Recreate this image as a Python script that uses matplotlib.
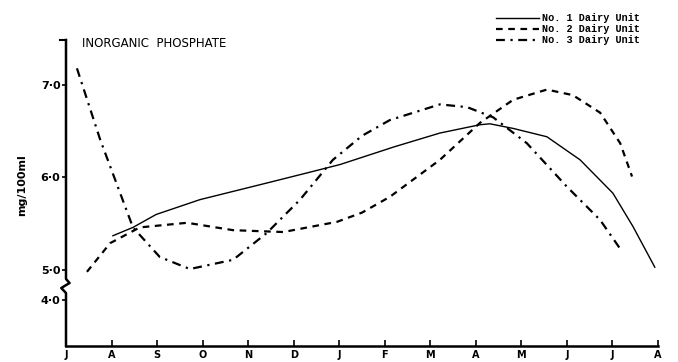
import matplotlib
matplotlib.use("Agg")
import matplotlib.pyplot as plt

months = ["J", "A", "S", "O", "N", "D", "J", "F", "M", "A", "M", "J", "J", "A"]

# month index (0 = July) and mg/100ml
unit1_x = [1.03, 1.47, 1.98, 2.94, 4.41, 5.3, 6.02, 7.2, 8.21, 9.09, 9.31, 9.82, 10.56, 11.29, 12.01, 12.45, 12.93]
unit1_y = [5.37, 5.46, 5.60, 5.76, 5.94, 6.05, 6.14, 6.33, 6.48, 6.57, 6.58, 6.53, 6.44, 6.19, 5.83, 5.47, 5.03]

unit2_x = [0.46, 0.97, 1.62, 2.66, 3.67, 4.77, 5.95, 6.5, 7.11, 8.21, 9.09, 9.82, 10.56, 11.13, 11.73, 12.17, 12.43]
unit2_y = [4.98, 5.29, 5.46, 5.51, 5.43, 5.41, 5.52, 5.62, 5.79, 6.19, 6.59, 6.84, 6.95, 6.89, 6.70, 6.37, 6.01]

unit3_x = [0.24, 0.75, 1.47, 2.06, 2.72, 3.67, 4.41, 5.14, 5.86, 6.5, 7.11, 8.21, 8.81, 9.38, 10.12, 11.0, 11.73, 12.21]
unit3_y = [7.18, 6.41, 5.46, 5.14, 5.01, 5.11, 5.40, 5.76, 6.19, 6.45, 6.62, 6.79, 6.76, 6.65, 6.37, 5.90, 5.54, 5.20]

ytick_pos = [7.0, 6.0, 5.0, 4.676]
ytick_lab = ["7·0", "6·0", "5·0", "4·0"]

fig = plt.figure(figsize=(6.78, 3.62), dpi=100)
ax = fig.add_axes([66 / 678, 1 - 346 / 362, 592 / 678, 306 / 362])

ax.plot(unit1_x, unit1_y, color="black", lw=1.0, label="No. 1 Dairy Unit")
ax.plot(unit2_x, unit2_y, color="black", lw=1.6, ls=(0, (3, 2.5)), label="No. 2 Dairy Unit")
ax.plot(unit3_x, unit3_y, color="black", lw=1.6, ls=(0, (4, 2.5, 1, 2.5)), label="No. 3 Dairy Unit")

ax.set_xlim(0, 13)
ax.set_ylim(4.178, 7.486)
ax.set_xticks(range(14))
ax.set_xticklabels(months, fontsize=7, fontweight="bold")
ax.tick_params(axis="x", direction="in", length=4, width=1.2, pad=3)
ax.set_yticks(ytick_pos)
ax.set_yticklabels(ytick_lab, fontsize=8, fontweight="bold")
ax.tick_params(axis="y", direction="out", length=3, width=1.2, pad=1)

for s in ["top", "right"]:
    ax.spines[s].set_visible(False)
ax.spines["left"].set_visible(False)
ax.spines["bottom"].set_linewidth(1.8)

# left spine with axis break between 5.0 and 4.0
def fy(py):
    return (346 - py) / 306
sx = [0, 0, 0.006, -0.008, 0, 0]
sy = [fy(40), fy(279), fy(283), fy(288), fy(293), 0]
ax.plot(sx, sy, color="black", lw=1.8, transform=ax.transAxes, clip_on=False)
ax.plot([-0.01, 0], [1, 1], color="black", lw=1.5, transform=ax.transAxes, clip_on=False)

ax.text(0.027, 0.99, "INORGANIC  PHOSPHATE", transform=ax.transAxes, fontsize=8.5,
        ha="left", va="center")
fig.text(22 / 678, 1 - 185 / 362, "mg/100ml", rotation=90, fontsize=8, fontweight="bold",
         ha="center", va="center")

fig.legend(loc="upper right", bbox_to_anchor=(645 / 678, 1 - 8 / 362), frameon=False,
           prop={"family": "Liberation Mono", "weight": "bold", "size": 7.3},
           handlelength=4.2, handletextpad=0.3, labelspacing=0.1, borderpad=0)

fig.savefig("out.png", dpi=100)
